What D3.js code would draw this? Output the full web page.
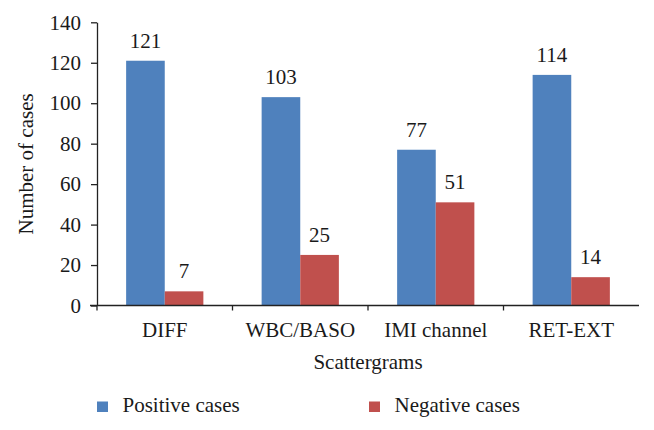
<!DOCTYPE html>
<html><head><meta charset="utf-8">
<script src="https://cdn.jsdelivr.net/npm/d3@7"></script>
<style>body{margin:0;background:#fff}svg{display:block}</style>
</head><body><svg id="c" width="654" height="430" font-family="Liberation Serif"></svg>
<script>
const categories = ["DIFF","WBC/BASO","IMI channel","RET-EXT"];
const positive = [121,103,77,114];
const negative = [7,25,51,14];
const seriesNames = ["Positive cases","Negative cases"];
const colors = ["#4F81BD","#C0504D"];
const yTicks = [0,20,40,60,80,100,120,140];

const FS = "21px";
const svg = d3.select("#c");
const L = 97, R = 639, T = 22.3, B = 305.5;
const x0 = d3.scaleBand().domain(categories).range([L,R]).padding(0);
const groupW = x0.bandwidth()*0.57;
const x1 = d3.scaleBand().domain(seriesNames).range([(x0.bandwidth()-groupW)/2,(x0.bandwidth()+groupW)/2]);
const y = d3.scaleLinear().domain([0,140]).range([B,T]);

function txt(sel){ return sel.attr("font-family","Liberation Serif").style("font-family","'Liberation Serif', monospace").style("font-size",FS).attr("fill","#1a1a1a"); }

const rows = categories.map((c,i)=>({cat:c, vals:[positive[i],negative[i]]}));
const g = svg.append("g");
g.selectAll("g.grp").data(rows).join("g").attr("class","grp")
 .attr("transform",d=>`translate(${x0(d.cat)},0)`)
 .each(function(d){
   const s = d3.select(this);
   s.selectAll("rect").data(d.vals.map((v,k)=>({v,k}))).join("rect")
    .attr("x",e=>x1(seriesNames[e.k])).attr("width",x1.bandwidth())
    .attr("y",e=>y(e.v)).attr("height",e=>B-y(e.v)).attr("fill",e=>colors[e.k]);
   txt(s.selectAll("text").data(d.vals.map((v,k)=>({v,k}))).join("text")
    .attr("x",e=>x1(seriesNames[e.k])+x1.bandwidth()/2).attr("y",e=>y(e.v)-13)
    .attr("text-anchor","middle").text(e=>e.v));
 });

// y axis
const ya = svg.append("g").attr("transform",`translate(${L},0)`)
 .call(d3.axisLeft(y).tickValues(yTicks).tickSize(6).tickPadding(10).tickSizeOuter(0));
ya.attr("font-family","Liberation Serif");
ya.select(".domain").attr("stroke","#222").attr("stroke-width",1.3);
ya.selectAll(".tick line").attr("stroke","#222").attr("stroke-width",1.3);
txt(ya.selectAll(".tick text"));

// x axis
const xa = svg.append("g").attr("transform",`translate(0,${B})`)
 .call(d3.axisBottom(x0).tickSize(0).tickPadding(17));
xa.attr("font-family","Liberation Serif");
xa.select(".domain").attr("stroke","#222").attr("stroke-width",1.3).attr("d",`M${L-7},0H${R}`);
txt(xa.selectAll(".tick text")).attr("dy","0.71em");
const bounds = categories.map(c=>x0(c));
svg.append("g").selectAll("line").data(bounds).join("line")
 .attr("x1",d=>d).attr("x2",d=>d).attr("y1",B).attr("y2",B+5).attr("stroke","#222").attr("stroke-width",1.3);

// axis titles
txt(svg.append("text").attr("x",(L+R)/2).attr("y",369).attr("text-anchor","middle")).text("Scattergrams");
txt(svg.append("text").attr("transform",`translate(33,${(T+B)/2}) rotate(-90)`).attr("text-anchor","middle")).text("Number of cases");

// legend
const legX = [97,369];
const lg = svg.append("g").selectAll("g").data(seriesNames).join("g")
 .attr("transform",(d,i)=>`translate(${legX[i]},401.5)`);
lg.append("rect").attr("width",11).attr("height",10.5).attr("fill",(d,i)=>colors[i]);
txt(lg.append("text").attr("x",25.5).attr("y",10)).text(d=>d);
</script></body></html>
